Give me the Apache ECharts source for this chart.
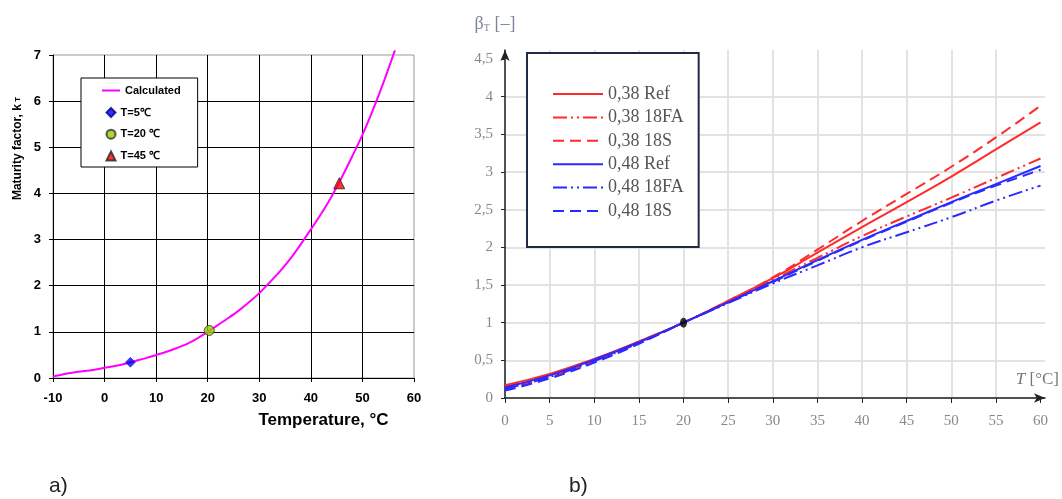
<!DOCTYPE html>
<html>
<head>
<meta charset="utf-8">
<script src="https://cdn.jsdelivr.net/npm/echarts@6/dist/echarts.min.js"></script>
<style>
  html, body { margin: 0; padding: 0; background: #fff; }
  #chart { width: 1062px; height: 499px; }
</style>
</head>
<body>
<div id="chart"></div>
<script>
// --- panel a) maturity factor
const tempA = [-10, -8, -6, -4, -2, 0, 2, 4, 6, 8, 10, 12, 14, 16, 18, 20, 22, 24, 26, 28, 30, 32, 34, 36, 38, 40, 42, 44, 46, 48, 50, 52, 54, 56.3];
const kCalc = [0.03, 0.08, 0.12, 0.15, 0.18, 0.22, 0.26, 0.31, 0.37, 0.43, 0.50, 0.57, 0.65, 0.74, 0.86, 1.00, 1.15, 1.30, 1.46, 1.64, 1.84, 2.07, 2.31, 2.58, 2.89, 3.22, 3.56, 3.93, 4.35, 4.80, 5.27, 5.80, 6.38, 7.10];
const markT = [5, 20.3, 45.5];
const markK = [0.34, 1.03, 4.22];
const markNames = ['T=5℃', 'T=20 ℃', 'T=45 ℃'];

// --- panel b) beta_T
const tempB = [0, 5, 10, 15, 20, 25, 30, 35, 40, 45, 50, 55, 60];
const r38Ref = [0.17, 0.32, 0.52, 0.75, 1.00, 1.29, 1.59, 1.93, 2.27, 2.60, 2.94, 3.30, 3.66];
const r38FA  = [0.15, 0.31, 0.51, 0.75, 1.00, 1.28, 1.57, 1.86, 2.15, 2.41, 2.66, 2.92, 3.18];
const r38S   = [0.12, 0.28, 0.49, 0.74, 1.00, 1.29, 1.60, 1.97, 2.35, 2.71, 3.07, 3.46, 3.88];
const r48Ref = [0.14, 0.30, 0.51, 0.74, 1.00, 1.27, 1.55, 1.83, 2.10, 2.35, 2.60, 2.84, 3.08];
const r48FA  = [0.12, 0.28, 0.49, 0.73, 1.00, 1.26, 1.52, 1.76, 2.00, 2.20, 2.40, 2.62, 2.82];
const r48S   = [0.10, 0.26, 0.47, 0.72, 1.00, 1.27, 1.54, 1.82, 2.09, 2.34, 2.59, 2.82, 3.03];
const namesB = ['0,38 Ref', '0,38 18FA', '0,38 18S', '0,48 Ref', '0,48 18FA', '0,48 18S'];
const xTicksB = [0, 5, 10, 15, 20, 25, 30, 35, 40, 45, 50, 55, 60];
const yTicksB = [0, 0.5, 1, 1.5, 2, 2.5, 3, 3.5, 4, 4.5];

const zip = (xs, ys) => xs.map((x, i) => [x, ys[i]]);

const sansA = 'Liberation Sans, Arial, sans-serif';
const serifB = 'Liberation Serif, Times New Roman, serif';
const RED = '#ff2a2a';
const BLUE = '#2a2aff';
const dashDot = [14, 4, 2, 4, 2, 4];
const dashed = [11, 6];

function lineB(name, data, color, type) {
  return {
    name: name, type: 'line', xAxisIndex: 1, yAxisIndex: 1,
    data: zip(tempB, data), smooth: true, showSymbol: false, symbol: 'none',
    lineStyle: { color: color, width: 2, type: type },
    itemStyle: { color: color }
  };
}

const legendTextA = { fontFamily: sansA, fontWeight: 'bold', fontSize: 11, color: '#000', lineHeight: 11 };

const chart = echarts.init(document.getElementById('chart'));
chart.setOption({
  animation: false,
  title: [
    { text: 'a)', left: 49, top: 476, padding: 0,
      textStyle: { fontFamily: sansA, fontSize: 21, fontWeight: 'normal', color: '#222' } },
    { text: 'b)', left: 569, top: 476, padding: 0,
      textStyle: { fontFamily: sansA, fontSize: 21, fontWeight: 'normal', color: '#222' } }
  ],
  grid: [
    { left: 53, right: 648, top: 55, bottom: 121, show: true, borderColor: '#999', borderWidth: 1 },
    { left: 505, right: 17, top: 50, bottom: 101 }
  ],
  legend: [
    {
      // box + line entry
      left: 81, top: 78, orient: 'vertical', selectedMode: false,
      data: [{ name: 'Calculated', itemStyle: { opacity: 0 } }],
      itemWidth: 18, itemHeight: 9,
      padding: [7, 17, 71, 20],
      borderColor: '#000', borderWidth: 1, backgroundColor: '#fff',
      textStyle: legendTextA
    },
    {
      // marker entries
      left: 105.5, top: 107, orient: 'vertical', selectedMode: false,
      data: markNames,
      itemWidth: 9, itemHeight: 9, itemGap: 10.7, padding: 0,
      textStyle: legendTextA
    },
    {
      left: 527, top: 53, orient: 'vertical', selectedMode: false,
      data: namesB,
      itemWidth: 50, itemHeight: 14, itemGap: 5.4,
      padding: [32, 15, 27, 25],
      itemStyle: { opacity: 0 },
      borderColor: '#1f2a44', borderWidth: 2, backgroundColor: '#fff',
      textStyle: { fontFamily: serifB, fontSize: 18, color: '#555', lineHeight: 16 }
    }
  ],
  xAxis: [
    {
      type: 'value', gridIndex: 0, min: -10, max: 60, interval: 10,
      axisLine: { show: true, onZero: false, lineStyle: { color: '#000', width: 1 } },
      axisTick: { show: true, length: 4, lineStyle: { color: '#000' } },
      axisLabel: { fontFamily: sansA, fontWeight: 'bold', fontSize: 13, color: '#000', margin: 14 },
      splitLine: { show: true, showMaxLine: false, lineStyle: { color: '#000', width: 1 } },
      name: 'Temperature, °C', nameLocation: 'middle', nameGap: 34,
      nameTextStyle: { fontFamily: sansA, fontWeight: 'bold', fontSize: 17, color: '#000',
        padding: [0, 0, 0, 180] }
    },
    {
      type: 'value', gridIndex: 1, min: 0, max: 60.5, interval: 5,
      axisLine: { show: true, onZero: false, symbol: ['none', 'arrow'], symbolSize: [7, 11],
        lineStyle: { color: '#222', width: 1.5 } },
      axisTick: { show: true, length: 5, customValues: xTicksB, lineStyle: { color: '#222' } },
      axisLabel: { fontFamily: serifB, fontSize: 15, color: '#888', margin: 16, customValues: xTicksB },
      splitLine: { show: true, showMaxLine: false, lineStyle: { color: '#e2e2e2', width: 2 } },
      name: '{i|T}{n| [°C]}', nameLocation: 'end', nameGap: 14,
      nameTextStyle: { align: 'right', verticalAlign: 'bottom', padding: [0, 0, 10, 0],
        rich: {
          i: { fontFamily: serifB, fontStyle: 'italic', fontSize: 17, color: '#777' },
          n: { fontFamily: serifB, fontSize: 17, color: '#777' }
        } }
    }
  ],
  yAxis: [
    {
      type: 'value', gridIndex: 0, min: 0, max: 7, interval: 1,
      axisLine: { show: true, onZero: false, lineStyle: { color: '#000', width: 1 } },
      axisTick: { show: true, length: 4, lineStyle: { color: '#000' } },
      axisLabel: { fontFamily: sansA, fontWeight: 'bold', fontSize: 13, color: '#000', margin: 12 },
      splitLine: { show: true, showMaxLine: false, lineStyle: { color: '#000', width: 1 } },
      name: '{m|Maturity factor, k}{s| T}', nameLocation: 'middle', nameGap: 29,
      nameTextStyle: { padding: [0, 0, 0, 136],
        rich: {
          m: { fontFamily: sansA, fontWeight: 'bold', fontSize: 12, color: '#000' },
          s: { fontFamily: sansA, fontWeight: 'bold', fontSize: 8, color: '#000' }
        } }
    },
    {
      type: 'value', gridIndex: 1, min: 0, max: 4.62, interval: 0.5,
      axisLine: { show: true, onZero: false, symbol: ['none', 'arrow'], symbolSize: [7, 11],
        lineStyle: { color: '#222', width: 1.5 } },
      axisTick: { show: true, length: 4, customValues: yTicksB, lineStyle: { color: '#222' } },
      axisLabel: { fontFamily: serifB, fontSize: 15, color: '#888', margin: 12, customValues: yTicksB,
        formatter: v => String(v).replace('.', ',') },
      splitLine: { show: true, showMaxLine: false, lineStyle: { color: '#e2e2e2', width: 2 } },
      name: '{b|β}{s|T}{b| [–]}', nameLocation: 'end', nameGap: 17,
      nameTextStyle: { align: 'center', verticalAlign: 'bottom', padding: [0, 20, 0, 0],
        rich: {
          b: { fontFamily: serifB, fontSize: 18, color: '#7d8696' },
          s: { fontFamily: serifB, fontSize: 10, color: '#7d8696', padding: [8, 0, 0, 0] }
        } }
    }
  ],
  series: [
    {
      name: 'Calculated', type: 'line', xAxisIndex: 0, yAxisIndex: 0,
      data: zip(tempA, kCalc), smooth: 0.3, showSymbol: false, symbol: 'none', clip: false,
      lineStyle: { color: '#ff00ff', width: 2 }, itemStyle: { color: '#ff00ff' }, z: 3
    },
    {
      name: markNames[0], type: 'scatter', xAxisIndex: 0, yAxisIndex: 0,
      data: [[markT[0], markK[0]]], symbol: 'diamond', symbolSize: 10,
      itemStyle: { color: '#0000ff', borderColor: '#00008b', borderWidth: 0.5 }, z: 4
    },
    {
      name: markNames[1], type: 'scatter', xAxisIndex: 0, yAxisIndex: 0,
      data: [[markT[1], markK[1]]], symbol: 'circle', symbolSize: 10,
      itemStyle: { color: '#99cc00', borderColor: '#333', borderWidth: 1 }, z: 4
    },
    {
      name: markNames[2], type: 'scatter', xAxisIndex: 0, yAxisIndex: 0,
      data: [[markT[2], markK[2]]], symbol: 'triangle', symbolSize: 11,
      itemStyle: { color: '#ff0000', borderColor: '#222', borderWidth: 1 }, z: 4
    },
    lineB(namesB[0], r38Ref, RED, 'solid'),
    lineB(namesB[1], r38FA, RED, dashDot),
    lineB(namesB[2], r38S, RED, dashed),
    lineB(namesB[3], r48Ref, BLUE, 'solid'),
    lineB(namesB[4], r48FA, BLUE, dashDot),
    lineB(namesB[5], r48S, BLUE, dashed),
    {
      name: 'ref point', type: 'scatter', xAxisIndex: 1, yAxisIndex: 1,
      data: [[20, 1]], symbol: 'circle', symbolSize: [7, 10],
      itemStyle: { color: '#000' }, z: 5
    }
  ]
});
</script>
</body>
</html>
